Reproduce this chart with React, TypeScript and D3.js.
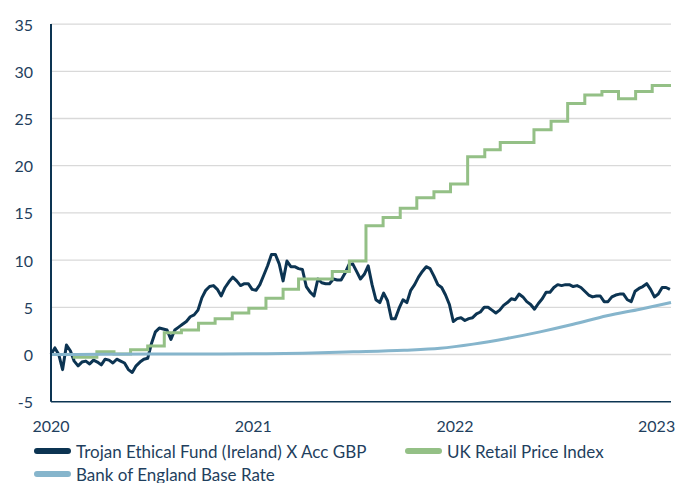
import React from "react";
import * as d3 from "d3";

const W = 677;
const H = 483;

// Trojan Ethical Fund (Ireland) X Acc GBP – weekly cumulative % from 2020-01-01
const fundStart = "2020-01-01";
const fundWeekly = [
  0, 0.7, 0.0, -1.6, 1.0, 0.4, -0.7, -1.2, -0.8, -0.7,
  -1.0, -0.6, -0.8, -1.1, -0.5, -0.6, -0.9, -0.5, -0.7, -0.9,
  -1.6, -1.9, -1.2, -0.8, -0.5, -0.4, 1.2, 2.4, 2.8, 2.7,
  2.6, 1.6, 2.6, 2.9, 3.2, 3.5, 4.0, 4.2, 4.7, 6.0,
  6.8, 7.2, 7.3, 6.9, 6.2, 7.1, 7.7, 8.2, 7.8, 7.3,
  7.5, 7.5, 6.9, 6.8, 7.4, 8.4, 9.4, 10.6, 10.6, 9.6,
  7.8, 9.9, 9.3, 9.3, 9.1, 9.0, 7.2, 6.6, 6.2, 8.0,
  7.6, 7.5, 7.5, 8.0, 7.9, 7.9, 8.6, 9.5, 9.6, 8.8,
  8.0, 8.5, 9.4, 7.4, 5.8, 5.5, 6.5, 5.7, 3.8, 3.8,
  4.9, 5.8, 5.5, 6.8, 7.4, 8.2, 8.8, 9.3, 9.1, 8.3,
  7.4, 7.1, 6.3, 5.3, 3.5, 3.8, 3.9, 3.6, 3.8, 3.9,
  4.3, 4.5, 5.0, 5.0, 4.7, 4.4, 4.7, 5.2, 5.5, 5.9,
  5.8, 6.4, 6.1, 5.6, 5.3, 4.8, 5.4, 5.9, 6.6, 6.6,
  7.1, 7.4, 7.3, 7.4, 7.4, 7.2, 7.3, 7.1, 6.7, 6.3,
  6.1, 6.2, 6.2, 5.6, 5.6, 6.1, 6.3, 6.4, 6.4, 5.8,
  5.6, 6.7, 7.0, 7.2, 7.5, 6.9, 6.1, 6.4, 7.1, 7.1,
  6.9,
];

// UK Retail Price Index – step dates and cumulative %
const rpiDates = [
  "2020-01-01", "2020-02-12", "2020-03-24", "2020-04-24", "2020-05-24", "2020-06-24",
  "2020-07-24", "2020-08-24", "2020-09-24", "2020-10-24", "2020-11-24", "2020-12-24",
  "2021-01-24", "2021-02-24", "2021-03-24", "2021-04-24", "2021-05-24", "2021-06-24",
  "2021-07-24", "2021-08-24", "2021-09-24", "2021-10-24", "2021-11-24", "2021-12-24",
  "2022-01-24", "2022-02-24", "2022-03-24", "2022-04-24", "2022-05-24", "2022-06-24",
  "2022-07-24", "2022-08-24", "2022-09-24", "2022-10-24", "2022-11-24", "2022-12-24",
  "2023-01-27",
];
const rpiValues = [
  0, -0.3, 0.3, 0.05, 0.5, 0.9,
  2.3, 2.6, 3.3, 3.8, 4.4, 4.9,
  5.95, 6.9, 8.0, 8.0, 8.8, 9.9,
  13.65, 14.5, 15.5, 16.6, 17.25, 18.05,
  20.95, 21.7, 22.45, 22.45, 23.8, 24.7,
  26.6, 27.5, 27.85, 27.1, 27.85, 28.5,
  28.5,
];

// Bank of England Base Rate – cumulative %
const boeDates = [
  "2020-01-01", "2020-04-01", "2020-07-01", "2020-10-01", "2021-01-01", "2021-04-01",
  "2021-07-01", "2021-10-01", "2021-12-05", "2022-02-03", "2022-04-05", "2022-06-04",
  "2022-08-03", "2022-10-03", "2022-12-02", "2023-01-27",
];
const boeValues = [
  0, 0.02, 0.04, 0.06, 0.08, 0.14,
  0.28, 0.45, 0.66, 1.1, 1.7, 2.4,
  3.2, 4.1, 4.8, 5.5,
];

const yTicks = [-5, 0, 5, 10, 15, 20, 25, 30, 35];
const xTickYears = [2020, 2021, 2022, 2023];
const seriesNames = [
  "Trojan Ethical Fund (Ireland) X Acc GBP",
  "UK Retail Price Index",
  "Bank of England Base Rate",
];
const seriesColors = ["#0c3452", "#94c086", "#86b5cc"];

const FONT = "Lato, 'Open Sans', sans-serif";
const TEXT = "#1f3f5e";

export default function App() {
  const parse = d3.utcParse("%Y-%m-%d");
  const start = parse(fundStart) as Date;
  const end = parse("2023-01-27") as Date;

  const x = d3.scaleUtc().domain([start, end]).range([51, 671]);
  const y = d3.scaleLinear().domain([-5, 35]).range([401.7, 24.1]);

  const fund = fundWeekly.map((v, i) => ({ d: d3.utcDay.offset(start, 7 * i), v }));
  const rpi = rpiDates.map((s, i) => ({ d: parse(s) as Date, v: rpiValues[i] }));
  const boe = boeDates.map((s, i) => ({ d: parse(s) as Date, v: boeValues[i] }));

  const lineLinear = d3
    .line<{ d: Date; v: number }>()
    .x((p) => x(p.d))
    .y((p) => y(p.v))
    .curve(d3.curveLinear);
  const lineStep = d3
    .line<{ d: Date; v: number }>()
    .x((p) => x(p.d))
    .y((p) => y(p.v))
    .curve(d3.curveStepAfter);
  const lineSmooth = d3
    .line<{ d: Date; v: number }>()
    .x((p) => x(p.d))
    .y((p) => y(p.v))
    .curve(d3.curveMonotoneX);

  const [x0, x1] = x.range();

  const legendItems = [
    { name: seriesNames[0], color: seriesColors[0], sx: 37, ty: 451 },
    { name: seriesNames[1], color: seriesColors[1], sx: 408, ty: 451 },
    { name: seriesNames[2], color: seriesColors[2], sx: 37, ty: 474 },
  ];

  return (
    <svg
      width={W}
      height={H}
      style={{ position: "absolute", left: 0, top: 0, background: "#fff" }}
      fontFamily={FONT}
    >
      {/* gridlines */}
      {yTicks
        .filter((t) => t !== -5)
        .map((t) => (
          <line key={t} x1={x0} x2={x1} y1={y(t)} y2={y(t)} stroke="#d9d9d9" strokeWidth={1.3} />
        ))}
      {/* y labels */}
      {yTicks.map((t) => (
        <text
          key={"yl" + t}
          x={33}
          y={y(t)}
          textAnchor="end"
          dominantBaseline="central"
          fontSize={16}
          fill={TEXT}
        >
          {t}
        </text>
      ))}
      {/* x labels */}
      {xTickYears.map((yr) => (
        <text
          key={"xl" + yr}
          x={x(new Date(Date.UTC(yr, 0, 1)))}
          y={425}
          textAnchor="middle"
          dominantBaseline="central"
          fontSize={16}
          fill={TEXT}
        >
          {yr}
        </text>
      ))}
      {/* series */}
      <path d={lineLinear(fund) || ""} fill="none" stroke={seriesColors[0]} strokeWidth={3} strokeLinejoin="round" />
      <path d={lineStep(rpi) || ""} fill="none" stroke={seriesColors[1]} strokeWidth={3} />
      <path d={lineSmooth(boe) || ""} fill="none" stroke={seriesColors[2]} strokeWidth={3} />
      {/* axes */}
      <line x1={x0} x2={x0} y1={y(35)} y2={y(-5)} stroke="#0c3452" strokeWidth={2} />
      <line x1={x0} x2={x1} y1={y(-5)} y2={y(-5)} stroke="#0c3452" strokeWidth={1.5} />
      {/* legend */}
      {legendItems.map((it) => (
        <g key={it.name}>
          <line
            x1={it.sx}
            x2={it.sx + 31}
            y1={it.ty}
            y2={it.ty}
            stroke={it.color}
            strokeWidth={6}
            strokeLinecap="round"
          />
          <text x={it.sx + 39} y={it.ty} dominantBaseline="central" fontSize={17} fill={TEXT}>
            {it.name}
          </text>
        </g>
      ))}
    </svg>
  );
}
